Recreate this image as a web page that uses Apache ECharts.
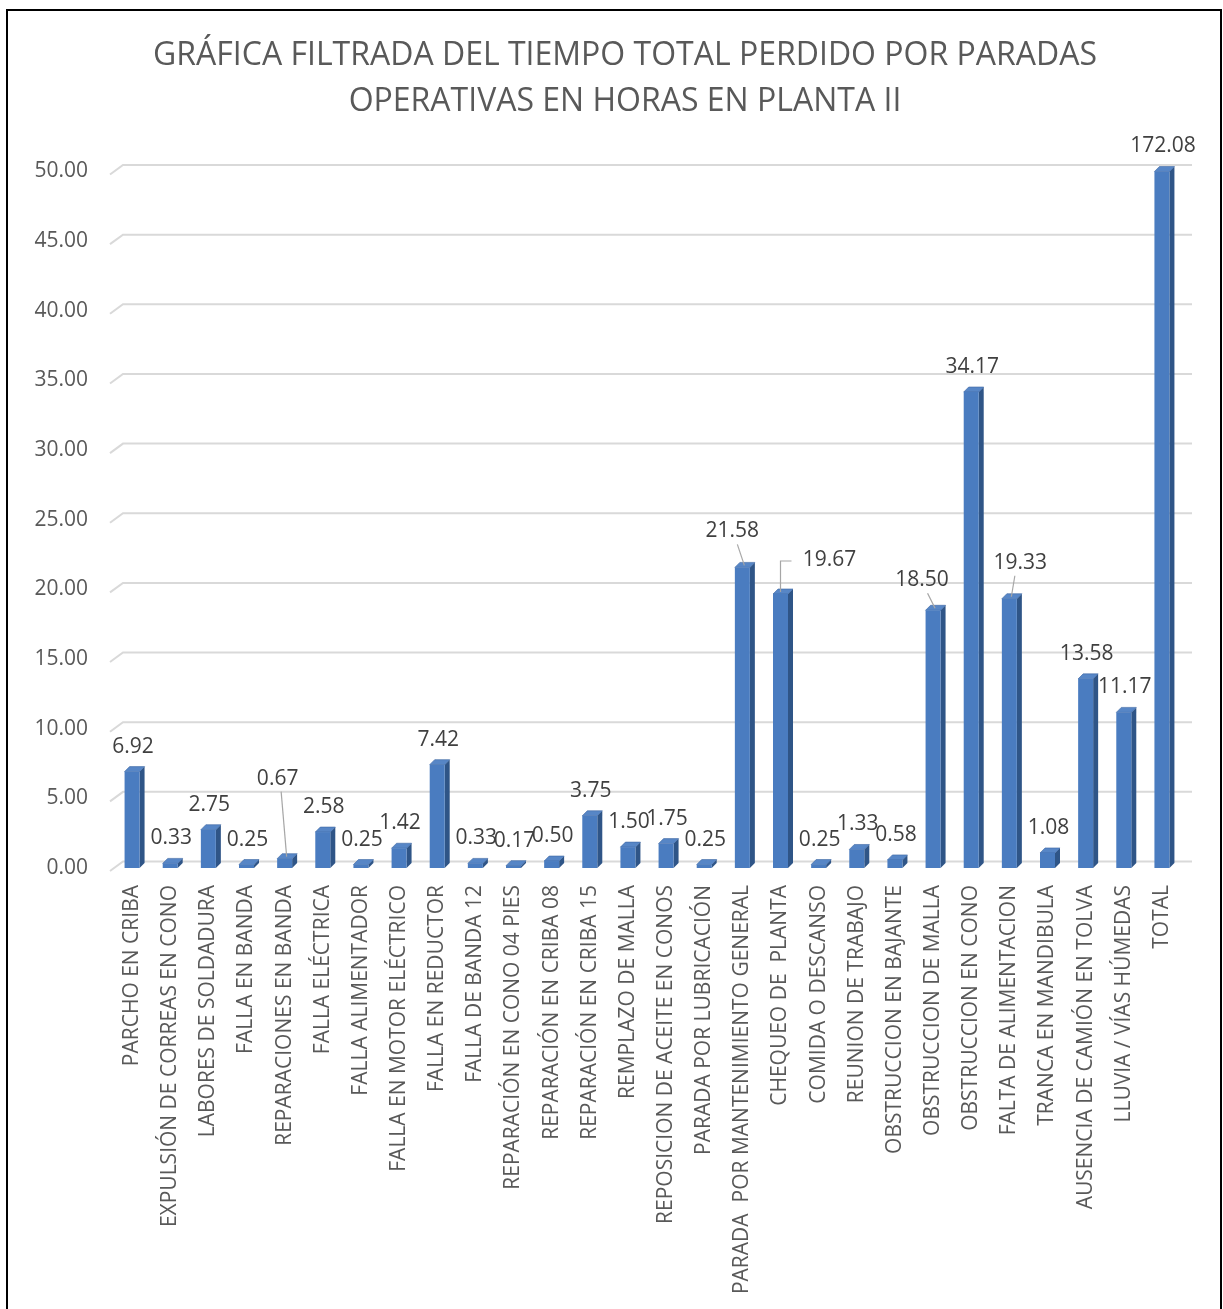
<!DOCTYPE html>
<html>
<head>
<meta charset="utf-8">
<script src="https://cdn.jsdelivr.net/npm/echarts@6/dist/echarts.min.js"></script>
<style>
html,body{margin:0;padding:0;background:#fff;}
#chart{width:1223px;height:1309px;}
</style>
</head>
<body>
<div id="chart"></div>
<script>
// ---------- DATA ----------
const categories = [
  "PARCHO EN CRIBA",
  "EXPULSIÓN DE CORREAS EN CONO",
  "LABORES DE SOLDADURA",
  "FALLA EN BANDA",
  "REPARACIONES EN BANDA",
  "FALLA ELÉCTRICA",
  "FALLA ALIMENTADOR",
  "FALLA EN MOTOR ELÉCTRICO",
  "FALLA EN REDUCTOR",
  "FALLA DE BANDA 12",
  "REPARACIÓN EN CONO 04 PIES",
  "REPARACIÓN EN CRIBA 08",
  "REPARACIÓN EN CRIBA 15",
  "REMPLAZO DE MALLA",
  "REPOSICION DE ACEITE EN CONOS",
  "PARADA POR LUBRICACIÓN",
  "PARADA  POR MANTENIMIENTO GENERAL",
  "CHEQUEO DE  PLANTA",
  "COMIDA O DESCANSO",
  "REUNION DE TRABAJO",
  "OBSTRUCCION EN BAJANTE",
  "OBSTRUCCION DE MALLA",
  "OBSTRUCCION EN CONO",
  "FALTA DE ALIMENTACION",
  "TRANCA EN MANDIBULA",
  "AUSENCIA DE CAMIÓN EN TOLVA",
  "LLUVIA / VÍAS HÚMEDAS",
  "TOTAL"
];
const hours = [6.92, 0.33, 2.75, 0.25, 0.67, 2.58, 0.25, 1.42, 7.42, 0.33, 0.17, 0.50, 3.75, 1.50,
               1.75, 0.25, 21.58, 19.67, 0.25, 1.33, 0.58, 18.50, 34.17, 19.33, 1.08, 13.58, 11.17, 172.08];
const yTicks = [0, 5, 10, 15, 20, 25, 30, 35, 40, 45, 50];
const titleLines = ["GRÁFICA FILTRADA DEL TIEMPO TOTAL PERDIDO POR PARADAS", "OPERATIVAS EN HORAS EN PLANTA II"];

// ---------- LAYOUT / STYLE (not data) ----------
const Y_MIN = 0, Y_MAX = 50, Y_STEP = 5;
const BAR_W = 15, DEPTH = 5;
const FRONT = '#4A7CC0', SIDE = '#2F5587', TOPC = '#5786C6';
const LABEL_FONT = '21px "Open Sans"';
const labelAdjust = {
  "REPARACIONES EN BANDA": {dx: -8, dy: -55, leader: 'line'},
  "PARADA  POR MANTENIMIENTO GENERAL": {dx: -11, dy: -11, leader: 'line'},
  "CHEQUEO DE  PLANTA": {dx: 48, dy: -9, leader: 'elbow'},
  "OBSTRUCCION DE MALLA": {dx: -12, dy: -5, leader: 'line'},
  "FALTA DE ALIMENTACION": {dx: 10, dy: -11, leader: 'line'}
};

const chart = echarts.init(document.getElementById('chart'));

function renderBar(params, api) {
  const i = api.value(0);
  const v = api.value(1);
  const shown = Math.min(v, Y_MAX);
  const top = api.coord([i, shown]);
  const base = api.coord([i, 0]);
  const cx = top[0], yt = top[1], yb = base[1];
  const xl = cx - BAR_W / 2, xr = cx + BAR_W / 2, d = DEPTH;
  const children = [
    {type: 'polygon', shape: {points: [[xr, yt], [xr + d, yt - d], [xr + d, yb - d], [xr, yb]]}, style: {fill: SIDE}},
    {type: 'polygon', shape: {points: [[xl, yt], [xl + d, yt - d], [xr + d, yt - d], [xr, yt]]}, style: {fill: TOPC, stroke: '#3D67A3', lineWidth: 0.6}},
    {type: 'rect', shape: {x: xl, y: yt, width: BAR_W, height: Math.max(yb - yt, 0)}, style: {fill: FRONT}}
  ];
  const adj = labelAdjust[categories[i]] || {dx: 0, dy: 0};
  const lx = cx + 1 + adj.dx, ly = yt - 25 + adj.dy;
  if (adj.leader === 'line') {
    children.push({type: 'line', shape: {x1: lx + 0.5 * (cx - lx), y1: ly + 13, x2: cx + 2, y2: yt - 2},
      style: {stroke: '#A6A6A6', lineWidth: 1.2}});
  } else if (adj.leader === 'elbow') {
    children.push({type: 'polyline', shape: {points: [[cx, yt - 2], [cx, ly + 1], [lx - 38, ly + 1]]},
      style: {stroke: '#A6A6A6', lineWidth: 1.2, fill: null}});
  }
  children.push({type: 'text', style: {text: v.toFixed(2), x: lx, y: ly, align: 'center', verticalAlign: 'middle',
    font: LABEL_FONT, fill: '#404040'}});
  return {type: 'group', children: children};
}

function renderGrid(params, api) {
  const v = api.value(1);
  const p = api.coord([0, v]);
  const cs = params.coordSys;
  const y = p[1];
  return {type: 'polyline', shape: {points: [[cs.x - 3, y + 3], [cs.x + 10, y - 6.5], [cs.x + cs.width + 11, y - 6.5]]},
    style: {stroke: '#D9D9D9', lineWidth: 2, fill: null}, z2: 0};
}

chart.setOption({
  backgroundColor: '#ffffff',
  animation: false,
  title: {
    text: titleLines.join('\n'),
    left: 620, top: 28, textAlign: 'center',
    textStyle: {fontFamily: 'Open Sans', fontSize: 32, fontWeight: 'normal', color: '#595959', lineHeight: 46}
  },
  graphic: [{type: 'rect', shape: {x: 7, y: 10, width: 1214, height: 1330}, style: {fill: null, stroke: '#000', lineWidth: 2}, silent: true, z: 100}],
  grid: {left: 113, width: 1068, top: 171.5, bottom: 441},
  xAxis: {
    type: 'category', data: categories,
    axisLine: {show: false}, axisTick: {show: false},
    axisLabel: {rotate: 90, interval: 0, margin: 17, fontFamily: 'Open Sans', fontSize: 21, color: '#595959'}
  },
  yAxis: {
    type: 'value', min: Y_MIN, max: Y_MAX, interval: Y_STEP,
    splitLine: {show: false}, axisLine: {show: false}, axisTick: {show: false},
    axisLabel: {margin: 25, fontFamily: 'Open Sans', fontSize: 21, color: '#595959', verticalAlign: 'middle',
      padding: [11, 0, 0, 0], formatter: v => v.toFixed(2)}
  },
  series: [
    {type: 'custom', name: 'grid', renderItem: renderGrid, clip: false, silent: true, z: 1,
      data: yTicks.map(t => [0, t])},
    {type: 'custom', name: 'Horas', renderItem: renderBar, clip: false, z: 2,
      data: hours.map((h, i) => [i, h])}
  ]
});
</script>
</body>
</html>
